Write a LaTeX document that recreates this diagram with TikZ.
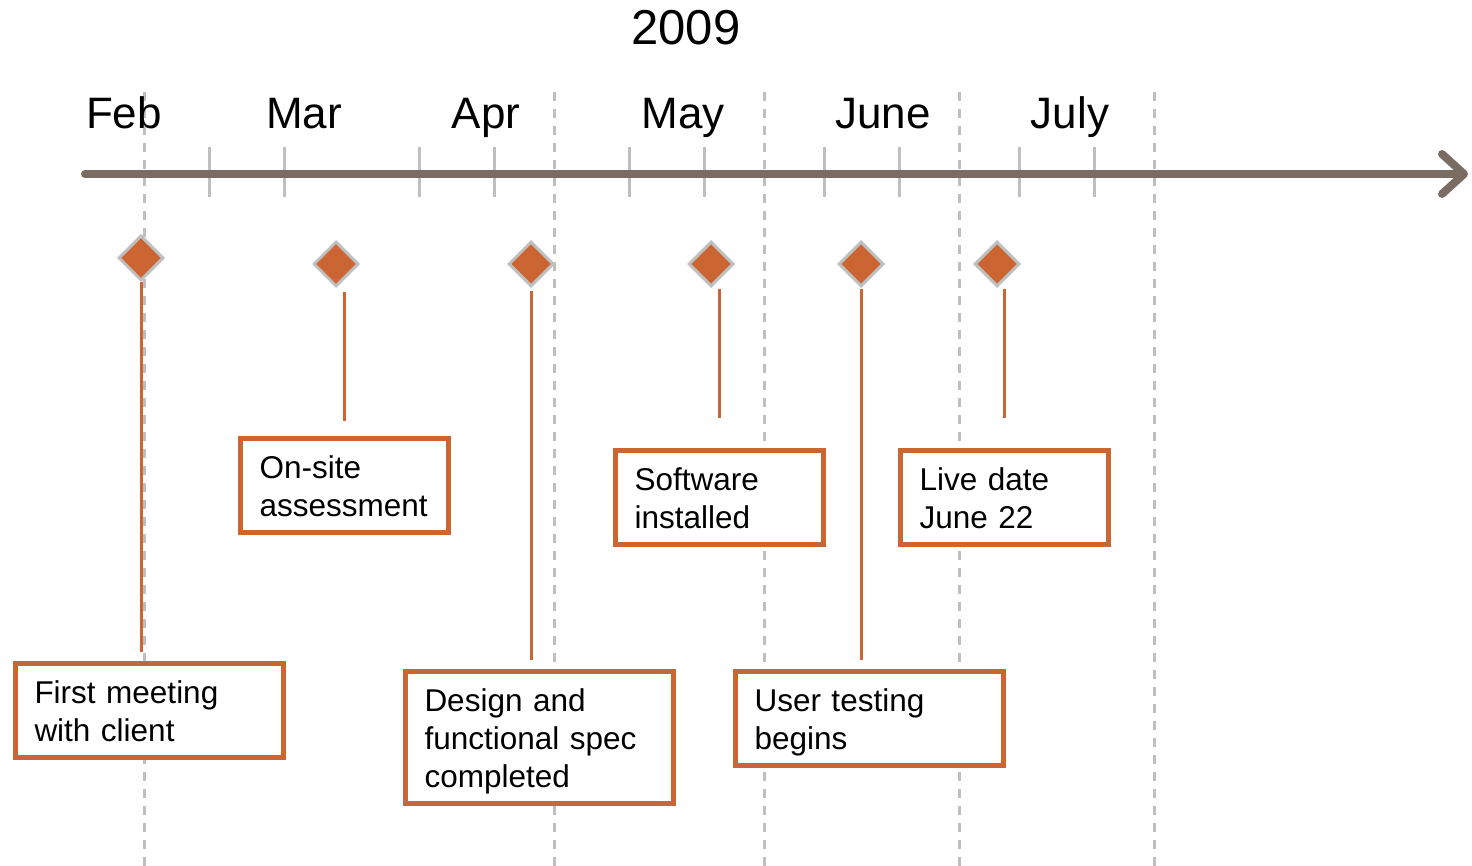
\documentclass[tikz,border=0pt]{standalone}
\usepackage{fontspec}
\setmainfont{Liberation Sans}
\usetikzlibrary{arrows.meta,shapes.geometric,positioning}
\definecolor{axisgray}{HTML}{7A6B63}
\definecolor{gridgray}{HTML}{BFBFBF}
\definecolor{rust}{HTML}{CB6632}
\newcommand\evtxt[1]{\rule{0pt}{40pt}#1\rule[-16pt]{0pt}{16pt}}
\tikzset{
  monthline/.style={gridgray,line width=3pt,dash pattern=on 9pt off 8pt},
  tickline/.style={gridgray,line width=3pt},
  evbox/.style={draw=rust,fill=white,line width=5pt,anchor=north west,
    inner xsep=19pt,inner ysep=0pt,align=left,font=\fontsize{31.5}{38}\selectfont},
  stem/.style={rust,line width=3pt}
}

\begin{document}
\begin{tikzpicture}[x=1pt,y=-1pt]%
        \useasboundingbox (0,0) rectangle (1472,866);%
        %% month borders and ticks
        \foreach \x in {144,554,764,959,1154}
          \draw[monthline] (\x,92)--(\x,866); %%
        \foreach \x in {209,284,419,494,629,704,824,899,1019,1094}
          \draw[tickline] (\x,147)--(\x,197); %%
        \coordinate (ax0) at (85,174); %%
        \coordinate (ax1) at (1468,174); %%
        \draw[axisgray,line width=8pt,line cap=round,
          -{Straight Barb[length=22pt,width=40pt,round]}] (ax0)--(ax1); %%
        \begin{scope}[anchor=base]
        \tikzstyle{every node}=[font=\fontsize{44}{50}\selectfont] %%
        \node[font=\fontsize{49}{56}\selectfont] (yr) at (686,45) {2009}; %%
        \node (feb) at (124,129) {Feb}; %%
        \node (mar) at (304,129) {Mar}; %%
        \node (apr) at (486,129) {Apr}; %%
        \node (may) at (683,129) {May}; %%
        \node (jun) at (883,129) {June}; %%
        \node (jul) at (1070,129) {July}; %%
        \end{scope}
        \begin{scope}
        \tikzstyle{every node}=[diamond,fill=rust,draw=gridgray,line width=3pt,
          minimum size=45pt,inner sep=0pt] %%
        \node (d1) at (141,258) {}; %%
        \node (d2) at (336,264) {}; %%
        \node (d3) at (531,264) {}; %%
        \node (d4) at (711,264) {}; %%
        \node (d5) at (861,264) {}; %%
        \node (d6) at (997,264) {}; %%
        \end{scope}
        \node[evbox,text width=230pt] (b1) at (13,661) {\evtxt{First meeting\\with client}}; %%
        \node[evbox,text width=170pt] (b2) at (238,436) {\evtxt{On-site\\assessment}}; %%
        \node[evbox,text width=230pt] (b3) at (403,669) {\evtxt{Design and\\functional spec\\completed}}; %%
        \node[evbox,text width=170pt] (b4) at (613,448) {\evtxt{Software\\installed}}; %%
        \node[evbox,text width=230pt] (b5) at (733,669) {\evtxt{User testing\\begins}}; %%
        \node[evbox,text width=170pt] (b6) at (898,448) {\evtxt{Live date\\June 22}}; %%
        \draw[stem,shorten >=9pt] (d1.south)--(d1.south |- b1.north); %%
        \draw[stem,shorten <=4pt,shorten >=15pt] (b2.north |- d2.south)--(b2.north); %%
        \draw[stem,shorten <=3pt,shorten >=9pt] (d3.south)--(d3.south |- b3.north); %%
        \draw[stem,shorten <=1pt,shorten >=30pt] (b4.north |- d4.south)--(b4.north); %%
        \draw[stem,shorten <=1pt,shorten >=9pt] (d5.south)--(d5.south |- b5.north); %%
        \draw[stem,shorten <=1pt,shorten >=30pt] (b6.north |- d6.south)--(b6.north); %%
\end{tikzpicture}
\end{document}
